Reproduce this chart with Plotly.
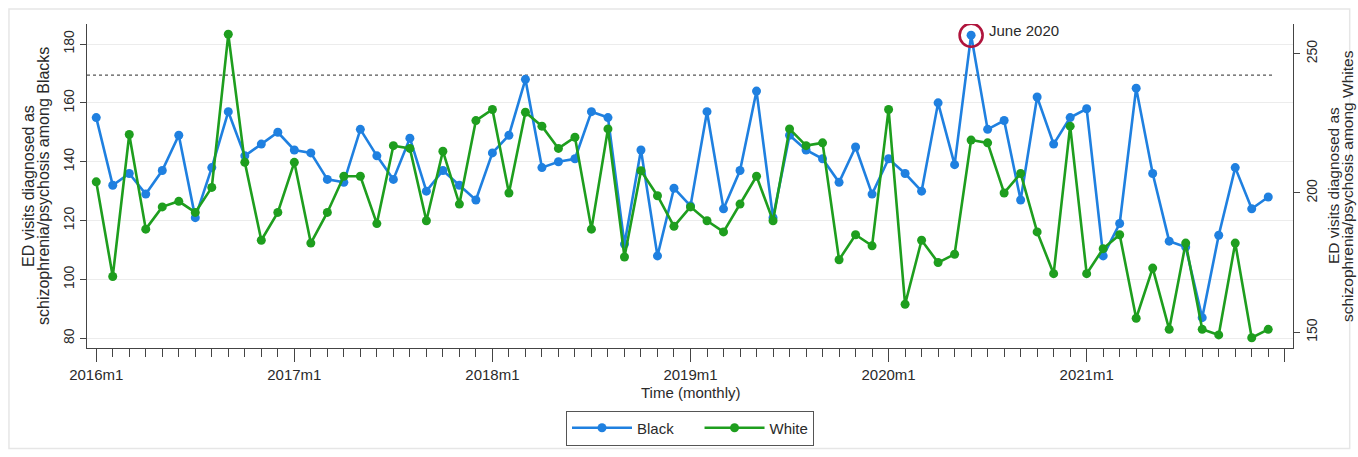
import plotly.graph_objects as go

# ---- data ----
months = list(range(72))  # 2016m1 .. 2021m12
black_visits = [155, 132, 136, 129, 137, 149, 121, 138, 157, 142, 146, 150,
                144, 143, 134, 133, 151, 142, 134, 148, 130, 137, 132, 127,
                143, 149, 168, 138, 140, 141, 157, 155, 112, 144, 108, 131,
                125, 157, 124, 137, 164, 121, 149, 144, 141, 133, 145, 129,
                141, 136, 130, 160, 139, 183, 151, 154, 127, 162, 146, 155,
                158, 108, 119, 165, 136, 113, 111, 87, 115, 138, 124, 128]
white_visits = [204, 170, 221, 187, 195, 197, 193, 202, 257, 211, 183, 193,
                211, 182, 193, 206, 206, 189, 217, 216, 190, 215, 196, 226,
                230, 200, 229, 224, 216, 220, 187, 223, 177, 208, 199, 188,
                195, 190, 186, 196, 206, 190, 223, 217, 218, 176, 185, 181,
                230, 160, 183, 175, 178, 219, 218, 200, 207, 186, 171, 224,
                171, 180, 185, 155, 173, 151, 182, 151, 149, 182, 148, 151]
tick_positions = [0, 12, 24, 36, 48, 60, 72]
tick_labels = ["2016m1", "2017m1", "2018m1", "2019m1", "2020m1", "2021m1", ""]
left_ticks = [80, 100, 120, 140, 160, 180]
right_ticks = [150, 200, 250]
threshold_black = 169.4
highlight_month = 53
highlight_label = "June 2020"
left_title = ["ED visits diagnosed as", "schizophrenia/psychosis among Blacks"]
right_title = ["ED visits diagnosed as", "schizophrenia/psychosis among Whites"]

BLUE = "#1f80e0"
GREEN = "#1e9e1e"
FONT = "Liberation Sans, Arial, sans-serif"
TXT = "#2a2a2a"
NB = "\u00a0"

fig = go.Figure()
fig.add_trace(go.Scatter(x=months, y=black_visits, name="Black" + NB * 5, mode="lines+markers",
                         line=dict(color=BLUE, width=2.6), marker=dict(color=BLUE, size=9)))
fig.add_trace(go.Scatter(x=months, y=white_visits, name="White", mode="lines+markers",
                         yaxis="y2",
                         line=dict(color=GREEN, width=2.6), marker=dict(color=GREEN, size=9)))
# highlight circle
fig.add_trace(go.Scatter(x=[highlight_month], y=[black_visits[highlight_month]], mode="markers",
                         showlegend=False, hoverinfo="skip",
                         marker=dict(symbol="circle-open", size=23, color="#b0143c",
                                     line=dict(width=2.6, color="#b0143c"))))

fig.add_shape(type="line", xref="x", yref="y", x0=-0.56, x1=71.3,
              y0=threshold_black, y1=threshold_black,
              line=dict(color="#555555", width=1.3, dash="dot"), layer="below")
# outer frame
fig.add_shape(type="rect", xref="paper", yref="paper", x0=-0.0647, x1=1.047, y0=-0.31, y1=1.046,
              line=dict(color="#e6e6e6", width=1.5))

fig.add_annotation(x=highlight_month, y=black_visits[highlight_month], xref="x", yref="y",
                   text=highlight_label, showarrow=False, xanchor="left", yanchor="middle",
                   xshift=16, yshift=5, font=dict(family=FONT, size=15, color=TXT))

# axis titles: one annotation per line for tight Stata-like line spacing
for txt, px in zip(left_title, [28, 43]):
    fig.add_annotation(x=(px - 87) / 1206, y=0.5, xref="paper", yref="paper", textangle=-90,
                       xanchor="center", yanchor="middle", text=txt, showarrow=False,
                       font=dict(family=FONT, size=16, color=TXT))
for txt, px in zip(right_title, [1333, 1347]):
    fig.add_annotation(x=(px - 87) / 1206, y=0.5, xref="paper", yref="paper", textangle=-90,
                       xanchor="center", yanchor="middle", text=txt, showarrow=False,
                       font=dict(family=FONT, size=15.5, color=TXT))
fig.add_annotation(x=0.5, y=-0.137, xref="paper", yref="paper", xanchor="center", yanchor="middle",
                   text="Time (monthly)", showarrow=False,
                   font=dict(family=FONT, size=15, color=TXT))

fig.update_layout(
    width=1358, height=457,
    margin=dict(l=87, r=65, t=24, b=105),
    paper_bgcolor="white", plot_bgcolor="white",
    font=dict(family=FONT, size=14, color=TXT),
    showlegend=True,
    legend=dict(orientation="h", x=0.5, xanchor="center", y=-0.193, yanchor="top",
                bordercolor="#555555", borderwidth=1, font=dict(size=15, color=TXT),
                itemwidth=60, tracegroupgap=0),
    xaxis=dict(range=[-0.56, 72.5], tickmode="array", tickvals=tick_positions, ticktext=tick_labels,
               ticks="outside", ticklen=13, tickcolor="#444", showline=True, linecolor="#444",
               linewidth=1.2, showgrid=False, zeroline=False, tickfont=dict(size=15),
               minor=dict(tick0=0, dtick=1, ticks="outside", ticklen=8, tickcolor="#444",
                          showgrid=False)),
    yaxis=dict(range=[76.7, 186.8], tickvals=left_ticks, ticks="outside", ticklen=6,
               tickcolor="#444", showline=True, linecolor="#444", linewidth=1.2,
               gridcolor="#ececec", zeroline=False, tickangle=-90, tickfont=dict(size=14)),
    yaxis2=dict(range=[144.3, 260.7], tickvals=right_ticks, overlaying="y", side="right",
                ticks="outside", ticklen=6, tickcolor="#444", showline=True, linecolor="#444",
                linewidth=1.2, showgrid=False, zeroline=False, tickangle=-90,
                tickfont=dict(size=14)),
)

fig.write_html("out.html", config={"displayModeBar": False},
               post_script="document.body.style.margin='0';")
